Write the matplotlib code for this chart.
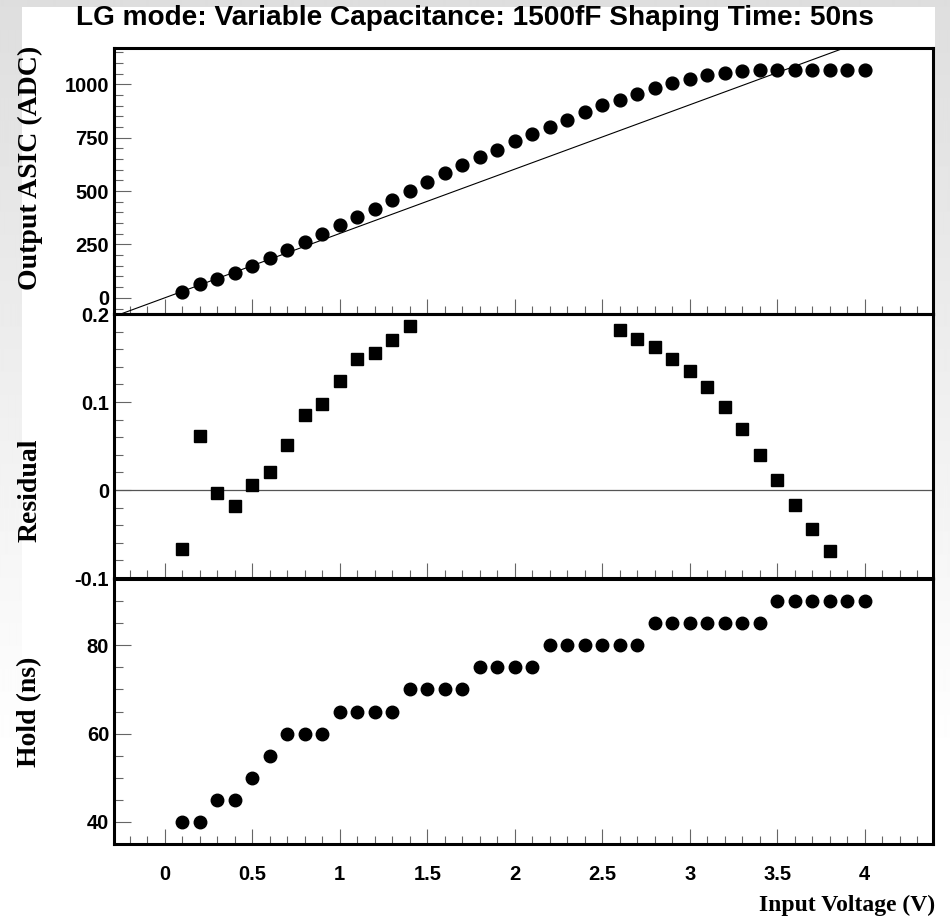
import numpy as np
import matplotlib
matplotlib.use("Agg")
import matplotlib.pyplot as plt
from matplotlib.ticker import MultipleLocator, FixedLocator, FuncFormatter
from matplotlib.patches import Rectangle

# ---- data -------------------------------------------------------------
input_voltage = [0.1, 0.2, 0.3, 0.4, 0.5, 0.6, 0.7, 0.8, 0.9, 1.0,
                 1.1, 1.2, 1.3, 1.4, 1.5, 1.6, 1.7, 1.8, 1.9, 2.0,
                 2.1, 2.2, 2.3, 2.4, 2.5, 2.6, 2.7, 2.8, 2.9, 3.0,
                 3.1, 3.2, 3.3, 3.4, 3.5, 3.6, 3.7, 3.8, 3.9, 4.0]

output_adc = [28.1, 64.0, 90.1, 118.4, 151.4, 184.4, 221.7, 261.5, 297.6, 338.8,
              380.6, 417.9, 458.4, 500.4, 543.7, 582.8, 619.8, 657.3, 694.4, 733.4,
              765.6, 799.4, 835.0, 868.5, 905.3, 925.4, 953.1, 980.5, 1003.7, 1026.1,
              1043.5, 1054.8, 1062.9, 1065.5, 1066.0, 1066.4, 1066.0, 1066.0, 1066.0, 1066.0]

# linear fit of the output (slope in ADC/V, intercept in ADC)
fit_slope = 301.3
fit_intercept = 0.0

# relative residual to the fit, 0.1 V .. 3.8 V
residual_voltage = input_voltage[:38]
residual = [-0.0674, 0.0618, -0.0030, -0.0180, 0.0053, 0.0199, 0.0513, 0.0850, 0.0974, 0.1244,
            0.1483, 0.1558, 0.1704, 0.1862, 0.203, 0.209, 0.210, 0.212, 0.213, 0.217,
            0.210, 0.206, 0.205, 0.201, 0.202, 0.1813, 0.1716, 0.1622, 0.1487, 0.1352,
            0.1172, 0.0940, 0.0690, 0.0401, 0.0109, -0.0169, -0.0438, -0.0689]

hold_ns = [40, 40, 45, 45, 50, 55, 60, 60, 60, 65,
           65, 65, 65, 70, 70, 70, 70, 75, 75, 75,
           75, 80, 80, 80, 80, 80, 80, 85, 85, 85,
           85, 85, 85, 85, 90, 90, 90, 90, 90, 90]

x_ticks = [0, 0.5, 1, 1.5, 2, 2.5, 3, 3.5, 4]
x_tick_labels = ["0", "0.5", "1", "1.5", "2", "2.5", "3", "3.5", "4"]
adc_ticks = [0, 250, 500, 750, 1000]
res_ticks = [-0.1, 0, 0.1, 0.2]
res_tick_labels = ["-0.1", "0", "0.1", "0.2"]
hold_ticks = [40, 60, 80]

title = "LG mode: Variable Capacitance: 1500fF Shaping Time: 50ns"

# ---- styling ----------------------------------------------------------
SANS = "Liberation Sans"
SERIF = "Liberation Serif"
TICK_FS = 14.5
YLAB_FS = 20
W, H = 950, 919

fig = plt.figure(figsize=(W / 100, H / 100), dpi=100)

# soft grey backdrop with a white sheet on top
bg = fig.add_axes([0, 0, 1, 1], zorder=-10)
bg.axis("off")
rows = np.arange(H)
shade = np.clip(0.87 + 0.13 * rows / 760.0, 0, 1)
img = np.repeat(shade[:, None], 4, axis=1)
bg.imshow(img, cmap="gray", vmin=0, vmax=1, extent=[0, 1, 0, 1], aspect="auto",
          interpolation="bilinear")
bg.add_patch(Rectangle((22 / W, 0), (935 - 22) / W, (H - 7) / H,
                       transform=bg.transAxes, facecolor="white", edgecolor="none"))
bg.set_xlim(0, 1)
bg.set_ylim(0, 1)

left = 114 / W
width = (933 - 114) / W


def panel(top_px, bottom_px):
    return fig.add_axes([left, 1 - bottom_px / H, width, (bottom_px - top_px) / H])


ax1 = panel(48, 314)
ax2 = panel(314, 578)
ax3 = panel(579, 844)

xlim = (-0.29, 4.39)
for ax in (ax1, ax2, ax3):
    ax.set_xlim(*xlim)
    ax.set_facecolor("none")
    for sp in ax.spines.values():
        sp.set_linewidth(2.2)
        sp.set_color("black")
    ax.xaxis.set_major_locator(FixedLocator(x_ticks))
    ax.xaxis.set_minor_locator(MultipleLocator(0.1))
    ax.tick_params(axis="x", which="major", direction="in", length=11, width=0.8,
                   color="#666666", top=False, bottom=True, labelbottom=False)
    ax.tick_params(axis="x", which="minor", direction="in", length=5.5, width=0.8,
                   color="#666666", top=False, bottom=True)
    ax.tick_params(axis="y", which="major", direction="in", length=12, width=0.8,
                   color="#666666", right=False, left=True, pad=3.5)
    ax.tick_params(axis="y", which="minor", direction="in", length=6.5, width=0.8,
                   color="#666666", right=False, left=True)

# top panel: output vs input with linear fit
ax1.set_ylim(-75.7, 1169.9)
ax1.plot(input_voltage, output_adc, "o", color="black", markersize=9.2, zorder=3)
xf = np.array(xlim)
ax1.plot(xf, fit_slope * xf + fit_intercept, color="black", lw=0.8, zorder=2)
ax1.yaxis.set_major_locator(FixedLocator(adc_ticks))
ax1.yaxis.set_minor_locator(MultipleLocator(50))

# middle panel: residual (points outside the frame are not drawn)
ax2.set_ylim(-0.1, 0.2)
rv = np.array(residual_voltage)
rr = np.array(residual)
inside = (rr >= -0.1) & (rr <= 0.2)
ax2.plot(rv[inside], rr[inside], "s", color="black", markersize=8.8, zorder=3)
ax2.axhline(0, color="#555555", lw=0.9, zorder=2)
ax2.yaxis.set_major_locator(FixedLocator(res_ticks))
ax2.yaxis.set_minor_locator(MultipleLocator(0.02))
ax2.yaxis.set_major_formatter(FuncFormatter(lambda v, p: res_tick_labels[res_ticks.index(round(v, 2))]
                                            if round(v, 2) in res_ticks else ""))

# bottom panel: hold time
ax3.set_ylim(35, 95)
ax3.plot(input_voltage, hold_ns, "o", color="black", markersize=9.0, zorder=3)
ax3.yaxis.set_major_locator(FixedLocator(hold_ticks))
ax3.yaxis.set_minor_locator(MultipleLocator(5))
ax3.tick_params(axis="x", which="major", labelbottom=True, pad=15)
ax3.set_xticklabels(x_tick_labels)

for ax in (ax1, ax2, ax3):
    for lab in ax.get_yticklabels() + ax.get_xticklabels():
        lab.set_fontfamily(SANS)
        lab.set_fontweight("bold")
        lab.set_fontsize(TICK_FS)

# titles
fig.text(475 / W, 1 - 18 / H, title, ha="center", va="center",
         fontfamily=SANS, fontweight="bold", fontsize=20.2)
fig.text(30 / W, 1 - 168 / H, "Output ASIC (ADC)", rotation=90, ha="center", va="center",
         fontfamily=SERIF, fontweight="bold", fontsize=YLAB_FS)
fig.text(30 / W, 1 - 490 / H, "Residual", rotation=90, ha="center", va="center",
         fontfamily=SERIF, fontweight="bold", fontsize=YLAB_FS)
fig.text(30 / W, 1 - 712 / H, "Hold (ns)", rotation=90, ha="center", va="center",
         fontfamily=SERIF, fontweight="bold", fontsize=YLAB_FS)
fig.text(935 / W, 1 - 905 / H, "Input Voltage (V)", ha="right", va="center",
         fontfamily=SERIF, fontweight="bold", fontsize=17)

fig.savefig("out.png", dpi=100)
